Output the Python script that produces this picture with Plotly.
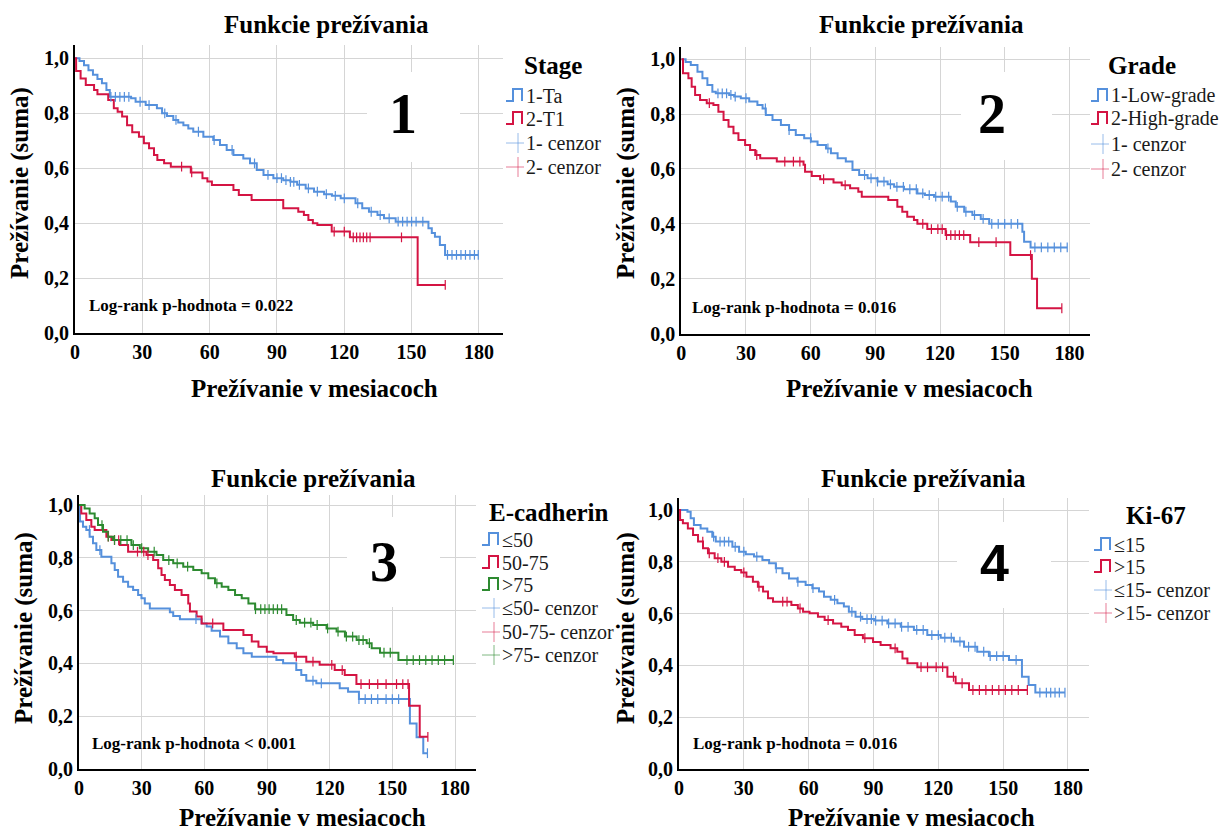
import bisect
import plotly.graph_objects as go

W, H = 1223, 831
SERIF = "Liberation Serif"
SANS = "Liberation Sans"
BLUE = "#5590dc"
RED = "#d41443"
GREEN = "#2d8a30"
PALE = {BLUE: "rgba(85,144,220,0.6)", RED: "rgba(212,20,67,0.55)", GREEN: "rgba(45,138,48,0.6)"}

month_ticks = [0, 30, 60, 90, 120, 150, 180]
surv_ticks = [0.0, 0.2, 0.4, 0.6, 0.8, 1.0]
surv_tick_text = ["0,0", "0,2", "0,4", "0,6", "0,8", "1,0"]

panel_title = "Funkcie prežívania"
x_title = "Prežívanie v mesiacoch"
y_title = "Prežívanie (suma)"

# ---------------- Panel 1: Stage ----------------
ta_t = [0, 2, 4, 6, 8, 10, 12, 14, 15.5, 25, 27, 31.5, 36.5, 38.8, 41, 43.8, 46, 48.3, 50.5, 52.7,
        57.2, 61.6, 64.6, 67.6, 70.6, 75, 78, 81, 84, 88.4, 92.8, 96, 99, 102.8, 106.5, 111, 114.5,
        118.4, 125, 128, 131, 134.8, 137.7, 142.9, 157.5, 159, 160.4, 162.6, 164.9, 179.7]
ta_s = [1.0, 0.99, 0.975, 0.957, 0.94, 0.925, 0.909, 0.885, 0.86, 0.855, 0.842, 0.83, 0.818, 0.8,
        0.79, 0.776, 0.767, 0.757, 0.745, 0.733, 0.715, 0.703, 0.685, 0.667, 0.648, 0.636, 0.618,
        0.594, 0.576, 0.564, 0.557, 0.551, 0.54, 0.527, 0.515, 0.506, 0.5, 0.491, 0.473, 0.455,
        0.442, 0.43, 0.418, 0.406, 0.382, 0.365, 0.351, 0.321, 0.285, 0.285]
ta_cens = [16, 18, 20, 22, 24, 29, 33, 40, 45, 55, 62, 70, 80, 86, 90, 92, 94, 96, 97.5, 100, 104,
           108, 112, 116, 120, 126, 132, 136, 140, 144, 146, 148, 150, 152, 155, 166, 168, 170,
           172, 174, 176, 178, 179.7]
t1_t = [0, 0.5, 2.5, 4.8, 8.5, 10, 14.8, 17.3, 19, 21, 23.2, 25.5, 28.5, 30.7, 33, 35.2, 36.7, 39.7,
        42.7, 51.6, 56.8, 59, 61, 70.6, 73, 78.7, 92.8, 99.5, 102, 104, 106, 108, 114.4, 122.5,
        152.7, 165]
t1_s = [1.0, 0.954, 0.927, 0.903, 0.885, 0.869, 0.848, 0.818, 0.806, 0.788, 0.757, 0.731, 0.715,
        0.691, 0.673, 0.648, 0.63, 0.618, 0.606, 0.585, 0.564, 0.552, 0.539, 0.521, 0.503, 0.485,
        0.455, 0.442, 0.43, 0.412, 0.4, 0.394, 0.37, 0.349, 0.176, 0.176]
t1_cens = [47.5, 52, 115.5, 120, 124, 125.5, 127, 128.5, 130, 131.5, 145.5, 165]

# ---------------- Panel 2: Grade ----------------
low_t = [0, 2, 4.4, 7.5, 9.8, 12.1, 14.4, 16, 22.2, 24.5, 27.6, 31.5, 35.3, 37.7, 39.2, 42.3, 46.2,
         50, 53.1, 57, 60.1, 63.2, 67.1, 69.4, 72.5, 76.3, 79.4, 82.5, 86.4, 91, 95.7, 98.7, 103.3,
         109.5, 113, 117.2, 125, 127.3, 131.2, 135, 138.9, 142.8, 158.2, 159, 162, 179]
low_s = [1.0, 0.99, 0.979, 0.955, 0.931, 0.906, 0.882, 0.876, 0.87, 0.864, 0.858, 0.846, 0.833,
         0.821, 0.797, 0.779, 0.76, 0.742, 0.724, 0.712, 0.7, 0.687, 0.675, 0.657, 0.639, 0.627,
         0.596, 0.578, 0.566, 0.554, 0.544, 0.535, 0.526, 0.511, 0.505, 0.499, 0.481, 0.462,
         0.444, 0.432, 0.418, 0.4, 0.371, 0.335, 0.314, 0.314]
low_cens = [17, 19, 21, 23, 25, 30, 39, 50, 60, 68, 85, 88, 91, 94, 97, 100, 103, 106, 109, 112,
            115, 118, 121, 124, 128, 132, 136, 140, 144, 147, 150, 153, 156, 164, 167, 170, 173,
            176, 179]
high_t = [0, 0.8, 3.3, 4.8, 6.4, 8.7, 11.8, 14.9, 17.2, 19.6, 21.9, 24.2, 26.5, 29.6, 31.9, 34.3,
          36.6, 44.3, 56.7, 57.4, 60.5, 64.4, 70.6, 74.4, 78.3, 82.1, 83.7, 96, 100.2, 102.5,
          104.8, 107.9, 109.5, 114.1, 122.6, 134, 152.6, 162.6, 165, 176.5]
high_s = [1.0, 0.949, 0.931, 0.9, 0.87, 0.852, 0.84, 0.833, 0.809, 0.779, 0.754, 0.73, 0.706,
          0.687, 0.669, 0.651, 0.639, 0.627, 0.615, 0.59, 0.574, 0.563, 0.551, 0.541, 0.53,
          0.517, 0.499, 0.487, 0.462, 0.444, 0.426, 0.414, 0.4, 0.381, 0.359, 0.333, 0.286,
          0.2, 0.092, 0.092]
high_cens = [13, 35, 48, 52, 55, 66, 76, 112, 116, 119, 121, 123, 125, 127, 129, 131, 138, 146,
             162, 176.5]

# ---------------- Panel 3: E-cadherin ----------------
e50_t = [0, 0.5, 1.9, 3.5, 5.1, 6.7, 8.3, 10.7, 15.5, 17.1, 18.7, 21.1, 23.5, 25.9, 28.3, 29.9,
         31.5, 33.9, 43.5, 45.1, 48.3, 58.7, 61.1, 63.5, 67.5, 71.5, 75.5, 78.7, 82.7, 94.5, 97.7,
         104, 106.4, 108.8, 113.6, 124.8, 128.8, 134, 158.4, 161.6, 164.8, 166.8]
e50_s = [1.0, 0.937, 0.918, 0.905, 0.88, 0.855, 0.829, 0.804, 0.779, 0.754, 0.728, 0.709, 0.69,
         0.678, 0.659, 0.646, 0.627, 0.608, 0.593, 0.579, 0.567, 0.551, 0.539, 0.523, 0.501,
         0.476, 0.457, 0.438, 0.425, 0.412, 0.4, 0.374, 0.355, 0.334, 0.324, 0.305, 0.292, 0.264,
         0.172, 0.119, 0.059, 0.059]
e50_cens = [5, 10, 56, 112, 116, 134, 137, 140, 143, 147, 150, 153, 166.8]
e5075_t = [0, 1.1, 3.5, 5.9, 7.5, 13.1, 15.5, 19.5, 23.5, 32.3, 35.5, 37.9, 39.5, 41.1, 43.5, 45.9,
           49.1, 52.3, 53.1, 56.3, 58.7, 69.1, 78.7, 82.7, 85.9, 89.9, 93.1, 103.3, 108.8, 115.2,
           122.4, 127.2, 132.8, 158, 163.1, 167]
e5075_s = [1.0, 0.968, 0.943, 0.918, 0.905, 0.88, 0.867, 0.848, 0.823, 0.81, 0.791, 0.76, 0.735,
           0.716, 0.697, 0.678, 0.659, 0.627, 0.596, 0.577, 0.551, 0.526, 0.507, 0.482, 0.463,
           0.444, 0.438, 0.425, 0.406, 0.394, 0.374, 0.355, 0.321, 0.239, 0.121, 0.121]
e5075_cens = [14, 17, 19, 28, 31, 33, 64, 104, 112, 121, 126, 135, 139, 143, 147, 152, 155, 157.5,
              167]
e75_t = [0, 2.7, 5.1, 7.5, 9.1, 11.5, 13.9, 16.3, 25.1, 29.1, 33.1, 37.1, 40.3, 45.1, 49.9, 54.7,
         58.7, 61.9, 65.1, 68.3, 71.5, 74.7, 77.9, 81.1, 84.3, 99.3, 102.5, 105.7, 112.1, 118.5,
         123.3, 127.3, 132.9, 137.7, 140.1, 144.1, 152.9, 179.2]
e75_s = [1.0, 0.987, 0.968, 0.95, 0.924, 0.899, 0.88, 0.867, 0.848, 0.836, 0.823, 0.81, 0.791,
         0.779, 0.766, 0.754, 0.741, 0.722, 0.703, 0.69, 0.678, 0.659, 0.646, 0.627, 0.605,
         0.583, 0.564, 0.554, 0.545, 0.532, 0.52, 0.501, 0.488, 0.476, 0.457, 0.44, 0.412, 0.412]
e75_cens = [11, 14, 17, 20, 23, 26, 30, 36, 43, 47, 52, 66, 84.5, 87, 89, 91, 93, 95, 97, 104, 108,
            111, 114, 119, 124, 128, 131, 134, 136, 139, 146, 149, 157, 160, 163, 166, 169, 172,
            175, 179.2]

# ---------------- Panel 4: Ki-67 ----------------
k15_t = [0, 3.9, 5.4, 6.9, 10, 13.1, 15.4, 17, 24.7, 27.8, 30.9, 34.7, 38.6, 41.7, 44.8, 47.9,
         50.9, 54.8, 58.6, 61.7, 64.8, 67.1, 70.2, 73.3, 76.3, 78.6, 81.7, 84.8, 90.2, 96.4,
         102.6, 108.7, 114.9, 121.1, 127.2, 131.9, 138, 143.4, 152.7, 158.7, 161.8, 164.9, 178.6]
k15_s = [1.0, 0.993, 0.968, 0.942, 0.929, 0.916, 0.897, 0.878, 0.858, 0.839, 0.829, 0.82, 0.807,
         0.794, 0.775, 0.756, 0.736, 0.723, 0.71, 0.698, 0.685, 0.665, 0.653, 0.64, 0.627, 0.607,
         0.588, 0.579, 0.573, 0.562, 0.549, 0.537, 0.517, 0.507, 0.492, 0.472, 0.453, 0.436,
         0.421, 0.356, 0.324, 0.295, 0.295]
k15_cens = [16, 19, 21, 23, 26, 30, 36, 45, 55, 62, 72, 80, 84, 87, 89, 91, 94, 97, 100, 103, 106,
            110, 113, 117, 120, 123, 126, 130, 134, 137, 141, 144, 147, 150, 156, 167, 170, 172,
            174, 176, 178.6]
kh_t = [0, 0.5, 1.8, 4.1, 6.5, 8.8, 11.1, 13.4, 16.5, 19.6, 22.7, 25.8, 28.8, 31.2, 34.2, 36.5,
        38.9, 41.2, 43.5, 52, 55, 57.4, 60.4, 64.3, 67.4, 71.3, 75.1, 78.2, 81.3, 85.1, 89.8, 93.3,
        97.9, 101, 103.4, 105.7, 110.3, 124.2, 128, 134.2, 161.2]
kh_s = [1.0, 0.961, 0.949, 0.929, 0.903, 0.878, 0.852, 0.833, 0.814, 0.8, 0.781, 0.768, 0.759,
        0.742, 0.723, 0.704, 0.685, 0.659, 0.646, 0.633, 0.62, 0.607, 0.601, 0.588, 0.575, 0.562,
        0.549, 0.537, 0.517, 0.505, 0.49, 0.479, 0.466, 0.453, 0.427, 0.408, 0.393, 0.356, 0.331,
        0.305, 0.305]
kh_cens = [11, 14, 18, 21, 30, 37, 48, 50, 56, 69, 86, 100, 112, 115, 119, 122, 127, 131, 136, 139,
           142, 145, 148, 151, 154, 157, 161.2]


def px(x):
    return x / W


def py(y):
    return 1 - y / H


panels = [
    dict(series=[("1-Ta", BLUE, ta_t, ta_s, ta_cens), ("2-T1", RED, t1_t, t1_s, t1_cens)],
         legend_title="Stage", legend_labels=["1-Ta", "2-T1", "1- cenzor", "2- cenzor"],
         number="1", number_font=SERIF, logrank="Log-rank p-hodnota = 0.022",
         x0=75, ppm=2.244, x1=503, y0=333.3, ppu=275, ytop=45,
         title_xy=(326, 25), xt_xy=(314, 388), yt_xy=(20, 183),
         leg_title_xy=(553, 65), leg_x=506, leg_rows=[96, 119, 143, 167],
         box=(367, 72, 460, 162), num_xy=(403, 114), lr_xy=(87, 305)),
    dict(series=[("1-Low-grade", BLUE, low_t, low_s, low_cens),
                 ("2-High-grade", RED, high_t, high_s, high_cens)],
         legend_title="Grade", legend_labels=["1-Low-grade", "2-High-grade", "1- cenzor", "2- cenzor"],
         number="2", number_font=SERIF, logrank="Log-rank p-hodnota = 0.016",
         x0=681.3, ppm=2.156, x1=1090, y0=333.5, ppu=274.2, ytop=47,
         title_xy=(921, 25), xt_xy=(909, 388), yt_xy=(626, 183),
         leg_title_xy=(1142, 65), leg_x=1091, leg_rows=[96, 119, 144, 169],
         box=(961, 72, 1052, 160), num_xy=(992, 114), lr_xy=(690, 307)),
    dict(series=[("≤50", BLUE, e50_t, e50_s, e50_cens), ("50-75", RED, e5075_t, e5075_s, e5075_cens),
                 (">75", GREEN, e75_t, e75_s, e75_cens)],
         legend_title="E-cadherin",
         legend_labels=["≤50", "50-75", ">75", "≤50- cenzor", "50-75- cenzor", ">75- cenzor"],
         number="3", number_font=SERIF, logrank="Log-rank p-hodnota < 0.001",
         x0=79, ppm=2.089, x1=476, y0=768.75, ppu=263.75, ytop=495,
         title_xy=(313, 478), xt_xy=(302, 817), yt_xy=(24, 628),
         leg_title_xy=(549, 512), leg_x=482, leg_rows=[540, 563, 585, 608, 632, 655],
         box=(347, 517, 440, 607), num_xy=(384, 562), lr_xy=(90, 743)),
    dict(series=[("≤15", BLUE, k15_t, k15_s, k15_cens), (">15", RED, kh_t, kh_s, kh_cens)],
         legend_title="Ki-67", legend_labels=["≤15", ">15", "≤15- cenzor", ">15- cenzor"],
         number="4", number_font=SANS, logrank="Log-rank p-hodnota = 0.016",
         x0=679, ppm=2.161, x1=1089, y0=769, ppu=259, ytop=498,
         title_xy=(923, 478), xt_xy=(911, 817), yt_xy=(626, 628),
         leg_title_xy=(1156, 515), leg_x=1094, leg_rows=[545, 567, 590, 613],
         box=(957, 522, 1051, 608), num_xy=(994, 563), lr_xy=(691, 743)),
]


def step_at(ts, ss, c):
    i = bisect.bisect_right(ts, c) - 1
    return ss[max(i, 0)]


fig = go.Figure()
annotations = []
shapes = []
layout = dict(width=W, height=H, margin=dict(l=0, r=0, t=0, b=0, autoexpand=False),
              paper_bgcolor="white", plot_bgcolor="white", showlegend=False)

for k, p in enumerate(panels, start=1):
    xa = "x" if k == 1 else f"x{k}"
    ya = "y" if k == 1 else f"y{k}"
    xmax = (p["x1"] - p["x0"]) / p["ppm"]
    ymax = (p["y0"] - p["ytop"]) / p["ppu"]
    axis_common = dict(showline=True, linecolor="black", linewidth=2, showgrid=True,
                       gridcolor="#d5d5d5", gridwidth=1, zeroline=False, ticks="",
                       tickfont=dict(family=SERIF, size=20, color="black", weight="bold"),
                       fixedrange=True, automargin=False)
    layout["xaxis" if k == 1 else f"xaxis{k}"] = dict(
        domain=[px(p["x0"]), px(p["x1"])], range=[0, xmax], anchor=ya,
        tickvals=month_ticks, ticktext=[str(v) for v in month_ticks], **axis_common)
    layout["yaxis" if k == 1 else f"yaxis{k}"] = dict(
        domain=[py(p["y0"]), py(p["ytop"])], range=[0, ymax], anchor=xa,
        tickvals=surv_ticks, ticktext=surv_tick_text, **axis_common)

    for name, color, ts, ss, cens in p["series"]:
        fig.add_trace(go.Scatter(x=ts, y=ss, mode="lines", name=name, xaxis=xa, yaxis=ya,
                                 line=dict(color=color, width=2, shape="hv"), hoverinfo="skip"))
    for name, color, ts, ss, cens in p["series"]:
        fig.add_trace(go.Scatter(x=cens, y=[step_at(ts, ss, c) for c in cens], mode="markers",
                                 name=name + "- cenzor", xaxis=xa, yaxis=ya, hoverinfo="skip",
                                 marker=dict(symbol="line-ns", size=7,
                                             line=dict(color=color, width=1.2))))

    def ann(text, xy, size, family=SERIF, weight="bold", xanchor="center", angle=0, color="black"):
        annotations.append(dict(text=text, x=px(xy[0]), y=py(xy[1]), xref="paper", yref="paper",
                                xanchor=xanchor, yanchor="middle", showarrow=False,
                                textangle=angle,
                                font=dict(family=family, size=size, color=color, weight=weight)))

    ann(panel_title, p["title_xy"], 25)
    ann(x_title, p["xt_xy"], 25)
    ann(y_title, p["yt_xy"], 25, angle=-90)
    ann(p["logrank"], p["lr_xy"], 17, xanchor="left")
    ann(p["legend_title"], p["leg_title_xy"], 25)

    bx0, by0, bx1, by1 = p["box"]
    shapes.append(dict(type="rect", xref="paper", yref="paper", x0=px(bx0), x1=px(bx1),
                       y0=py(by1), y1=py(by0), fillcolor="white", line=dict(width=0),
                       layer="above"))
    if p["number_font"] == SANS:
        ann(p["number"], p["num_xy"], 52, family=SANS)
    else:
        ann(p["number"], p["num_xy"], 56)

    # legend
    n = len(p["series"])
    lx = p["leg_x"]
    for i, label in enumerate(p["legend_labels"]):
        row = p["leg_rows"][i]
        color = p["series"][i % n][1]
        if i < n:
            path = (f"M {px(lx)},{py(row + 5)} L {px(lx + 7)},{py(row + 5)} "
                    f"L {px(lx + 7)},{py(row - 7)} L {px(lx + 16)},{py(row - 7)} "
                    f"L {px(lx + 16)},{py(row + 5)}")
            shapes.append(dict(type="path", xref="paper", yref="paper", path=path,
                               line=dict(color=color, width=2)))
        else:
            shapes.append(dict(type="line", xref="paper", yref="paper", x0=px(lx), x1=px(lx + 18),
                               y0=py(row), y1=py(row), line=dict(color=PALE[color], width=1)))
            shapes.append(dict(type="line", xref="paper", yref="paper", x0=px(lx + 12),
                               x1=px(lx + 12), y0=py(row - 10), y1=py(row + 10),
                               line=dict(color=PALE[color], width=1)))
        ann(label, (lx + 18, row), 20, weight="normal", xanchor="left", color="#1a1a1a")

layout["annotations"] = annotations
layout["shapes"] = shapes
fig.update_layout(**layout)
fig.write_html("out.html", config={"displayModeBar": False},
               post_script="document.body.style.margin='0px';document.body.style.padding='0px';")
